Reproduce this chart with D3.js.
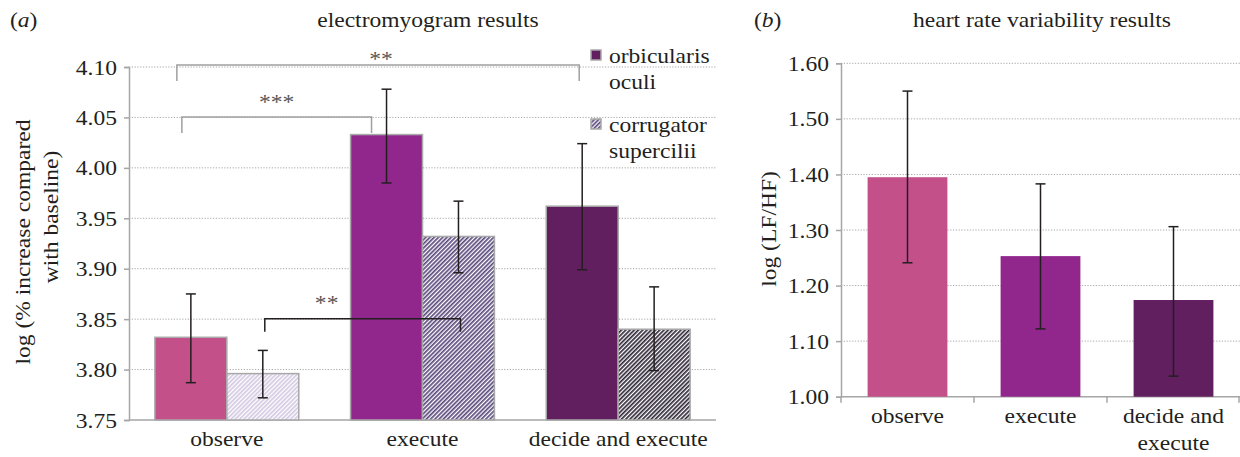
<!DOCTYPE html>
<html>
<head>
<meta charset="utf-8">
<script src="https://cdn.jsdelivr.net/npm/d3@7"></script>
<style>
  body { margin: 0; background: #fff; }
  .grid line { stroke: #a6a6a6; stroke-dasharray: 1.2 1.6; }
</style>
</head>
<body>
<svg width="1240" height="457"></svg>
<script>
// panel (a): electromyogram
const groupsA = ['observe', 'execute', 'decide and execute'];
const seriesA = ['orbicularis oculi', 'corrugator supercilii'];
const orbMean = [3.832, 4.033, 3.962];
const orbLow  = [3.787, 3.985, 3.899];
const orbHigh = [3.875, 4.078, 4.024];
const corMean = [3.796, 3.932, 3.840];
const corLow  = [3.772, 3.896, 3.799];
const corHigh = [3.819, 3.967, 3.882];
const ticksA = [3.75, 3.80, 3.85, 3.90, 3.95, 4.00, 4.05, 4.10];

// panel (b): heart rate variability
const groupsB = ['observe', 'execute', 'decide and execute'];
const hrvMean = [1.395, 1.253, 1.174];
const hrvLow  = [1.241, 1.122, 1.037];
const hrvHigh = [1.550, 1.383, 1.306];
const ticksB = [1.00, 1.10, 1.20, 1.30, 1.40, 1.50, 1.60];

const FONT = '"Liberation Serif", "Times New Roman", serif';
const FS = 22;
const STRETCH = 1.07;

const svg = d3.select('svg');
const defs = svg.append('defs');

const orbColors = ['#c4508a', '#91268d', '#621f60'];
const hatchColors = ['#d3c9e2', '#5b4a7d', '#302838'];

hatchColors.forEach((c, i) => {
    const p = defs.append('pattern')
        .attr('id', 'hatch' + i)
        .attr('patternUnits', 'userSpaceOnUse')
        .attr('width', 3).attr('height', 3)
        .attr('patternTransform', 'rotate(45)');
    p.append('rect').attr('width', 3).attr('height', 3).attr('fill', '#fff');
    p.append('rect').attr('width', 1.7).attr('height', 3).attr('fill', c);
});

// ---------- panel a ----------
const yA = d3.scaleLinear().domain([3.75, 4.10]).range([420, 67]);
const xA = d3.scaleBand().domain(groupsA).range([129, 716]);
const xSub = d3.scaleBand().domain(seriesA).range([0, xA.bandwidth()]).paddingOuter(0.36);

const pa = svg.append('g');

pa.append('g').attr('class', 'grid')
    .selectAll('line').data(ticksA.slice(1)).enter()
    .append('line')
    .attr('x1', 129).attr('x2', 716)
    .attr('y1', d => yA(d)).attr('y2', d => yA(d));

const axA = pa.append('g').attr('transform', 'translate(129,0)')
    .call(d3.axisLeft(yA).tickValues(ticksA).tickFormat(d3.format('.2f')).tickSize(5).tickPadding(7));
axA.select('.domain').attr('stroke', '#a6a6a6').attr('stroke-width', 1.5);
axA.selectAll('.tick line').attr('stroke', '#a6a6a6').attr('stroke-width', 1.5);

pa.append('line').attr('x1', 129).attr('x2', 716).attr('y1', yA(3.75)).attr('y2', yA(3.75))
    .attr('stroke', '#a6a6a6').attr('stroke-width', 1.5);

const rowsA = groupsA.map((g, i) => [
    {g, s: seriesA[0], v: orbMean[i], lo: orbLow[i], hi: orbHigh[i], fill: orbColors[i]},
    {g, s: seriesA[1], v: corMean[i], lo: corLow[i], hi: corHigh[i], fill: 'url(#hatch' + i + ')'}
]).flat();

pa.selectAll('rect.bar').data(rowsA).enter()
    .append('rect').attr('class', 'bar')
    .attr('x', d => xA(d.g) + xSub(d.s))
    .attr('width', xSub.bandwidth())
    .attr('y', d => yA(d.v))
    .attr('height', d => yA(3.75) - yA(d.v))
    .attr('fill', d => d.fill)
    .attr('stroke', '#a8a8a8').attr('stroke-width', 1.5);

const cx = d => xA(d.g) + xSub(d.s) + xSub.bandwidth() / 2;
const eb = pa.selectAll('g.err').data(rowsA).enter().append('g')
    .attr('stroke', '#231f20').attr('stroke-width', 1.5);
eb.append('line').attr('x1', cx).attr('x2', cx).attr('y1', d => yA(d.lo)).attr('y2', d => yA(d.hi));
eb.append('line').attr('x1', d => cx(d) - 5).attr('x2', d => cx(d) + 5).attr('y1', d => yA(d.hi)).attr('y2', d => yA(d.hi));
eb.append('line').attr('x1', d => cx(d) - 5).attr('x2', d => cx(d) + 5).attr('y1', d => yA(d.lo)).attr('y2', d => yA(d.lo));

// significance brackets
const sig = [
    {from: [0, 0, -14], to: [2, 0, -3], top: 4.102, leg: 4.086, label: '**', gap: -1, dx: 3, color: '#a0a0a0'},
    {from: [0, 0, -9], to: [1, 0, -15], top: 4.0504, leg: 4.0346, label: '***', gap: 8, dx: 0, color: '#a0a0a0'},
    {from: [0, 1, 2], to: [1, 1, 2], top: 3.8504, leg: 3.8375, label: '**', gap: 9, dx: -36, color: '#231f20'}
];
const bx = ([gi, si, off]) => xA(groupsA[gi]) + xSub(seriesA[si]) + xSub.bandwidth() / 2 + off;
sig.forEach(s => {
    const x1 = bx(s.from), x2 = bx(s.to);
    pa.append('path')
        .attr('d', `M${x1},${yA(s.leg)}V${yA(s.top)}H${x2}V${yA(s.leg)}`)
        .attr('fill', 'none').attr('stroke', s.color).attr('stroke-width', 1.5);
    pa.append('text').attr('x', (x1 + x2) / 2 + s.dx).attr('y', yA(s.top) - s.gap)
        .attr('text-anchor', 'middle').attr('fill', '#555')
        .text(s.label);
});

// x labels
pa.selectAll('text.xl').data(groupsA).enter().append('text')
    .attr('x', d => xA(d) + xA.bandwidth() / 2).attr('y', 446)
    .attr('text-anchor', 'middle').text(d => d);

// legend
[['orbicularis', 'oculi'], ['corrugator', 'supercilii']].forEach((lines, i) => {
    const y0 = 50 + i * 69;
    pa.append('rect').attr('x', 591).attr('y', y0).attr('width', 10).attr('height', 10)
        .attr('fill', i === 0 ? orbColors[2] : 'url(#hatch1)')
        .attr('stroke', '#a8a8a8').attr('stroke-width', 1.5);
    lines.forEach((t, j) => pa.append('text').attr('x', 609).attr('y', y0 + 13 + j * 26.5).text(t));
});

pa.append('text').attr('x', 428).attr('y', 27).attr('text-anchor', 'middle')
    .text('electromyogram results');
pa.append('text').attr('x', 10).attr('y', 27)
    .html('(<tspan font-style="italic">a</tspan>)');

pa.append('text').attr('transform', 'translate(30,242) rotate(-90)')
    .attr('text-anchor', 'middle').text('log (% increase compared');
pa.append('text').attr('transform', 'translate(58,217) rotate(-90)')
    .attr('text-anchor', 'middle').text('with baseline)');

// ---------- panel b ----------
const yB = d3.scaleLinear().domain([1.0, 1.6]).range([396.7, 63.3]);
const xB = d3.scaleBand().domain(groupsB).range([841, 1240]).paddingInner(0.4).paddingOuter(0.2);
const pb = svg.append('g');

pb.append('g').attr('class', 'grid')
    .selectAll('line').data(ticksB.slice(1)).enter()
    .append('line')
    .attr('x1', 841).attr('x2', 1240)
    .attr('y1', d => yB(d)).attr('y2', d => yB(d));

const axB = pb.append('g').attr('transform', 'translate(841,0)')
    .call(d3.axisLeft(yB).tickValues(ticksB).tickFormat(d3.format('.2f')).tickSize(5).tickPadding(7));
axB.select('.domain').attr('stroke', '#a6a6a6').attr('stroke-width', 1.5);
axB.selectAll('.tick line').attr('stroke', '#a6a6a6').attr('stroke-width', 1.5);

pb.append('line').attr('x1', 841).attr('x2', 1240).attr('y1', yB(1)).attr('y2', yB(1))
    .attr('stroke', '#a6a6a6').attr('stroke-width', 1.5);
const bounds = [841, ...groupsB.map(g => xB(g) + xB.bandwidth() + xB.step() * xB.paddingInner() / 2)];
pb.selectAll('line.xt').data(bounds).enter().append('line')
    .attr('x1', d => Math.min(d, 1239)).attr('x2', d => Math.min(d, 1239))
    .attr('y1', yB(1)).attr('y2', yB(1) + 6)
    .attr('stroke', '#a6a6a6').attr('stroke-width', 1.5);

const rowsB = groupsB.map((g, i) => ({g, v: hrvMean[i], lo: hrvLow[i], hi: hrvHigh[i], fill: orbColors[i]}));
pb.selectAll('rect.bar').data(rowsB).enter().append('rect')
    .attr('x', d => xB(d.g)).attr('width', xB.bandwidth())
    .attr('y', d => yB(d.v)).attr('height', d => yB(1) - yB(d.v))
    .attr('fill', d => d.fill);

const cxB = d => xB(d.g) + xB.bandwidth() / 2;
const ebB = pb.selectAll('g.err').data(rowsB).enter().append('g')
    .attr('stroke', '#231f20').attr('stroke-width', 1.5);
ebB.append('line').attr('x1', cxB).attr('x2', cxB).attr('y1', d => yB(d.lo)).attr('y2', d => yB(d.hi));
ebB.append('line').attr('x1', d => cxB(d) - 5).attr('x2', d => cxB(d) + 5).attr('y1', d => yB(d.hi)).attr('y2', d => yB(d.hi));
ebB.append('line').attr('x1', d => cxB(d) - 5).attr('x2', d => cxB(d) + 5).attr('y1', d => yB(d.lo)).attr('y2', d => yB(d.lo));

pb.selectAll('text.xl').data(groupsB).enter().append('text')
    .attr('text-anchor', 'middle')
    .each(function(d) {
        const t = d3.select(this).attr('x', cxB({g: d}));
        const lines = d === 'decide and execute' ? ['decide and', 'execute'] : [d];
        lines.forEach((l, j) => t.append('tspan').attr('x', cxB({g: d})).attr('y', 423 + j * 27).text(l));
    });

pb.append('text').attr('x', 1042).attr('y', 27).attr('text-anchor', 'middle')
    .text('heart rate variability results');
pb.append('text').attr('x', 754).attr('y', 27)
    .html('(<tspan font-style="italic">b</tspan>)');
pb.append('text').attr('transform', 'translate(776,229) rotate(-90)')
    .attr('text-anchor', 'middle').text('log (LF/HF)');

// common text styling: serif face, slightly widened like the source figure
svg.selectAll('text').each(function() {
    const t = d3.select(this);
    t.style('font-family', FONT).style('font-size', FS + 'px');
    if (!t.attr('fill') || t.attr('fill') === 'currentColor') t.attr('fill', '#231f20');
    const tr = t.attr('transform');
    if (tr) {
        t.attr('transform', tr + ` scale(${STRETCH},1)`);
    } else {
        const x = +t.attr('x') || 0;
        t.attr('transform', `translate(${x},0) scale(${STRETCH},1) translate(${-x},0)`);
    }
});
</script>
</body>
</html>
